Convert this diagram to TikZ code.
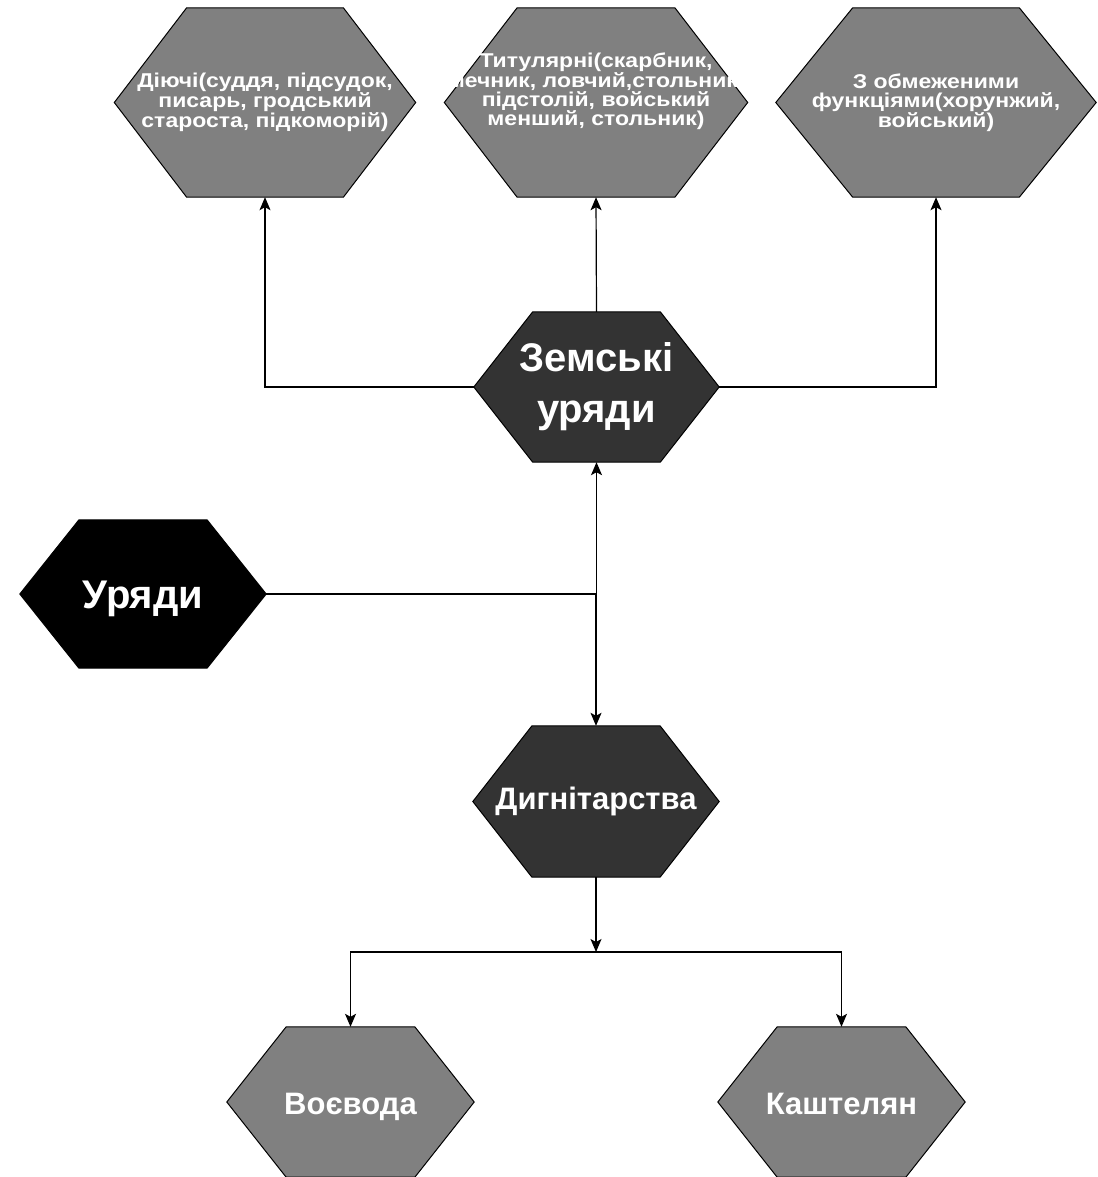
\documentclass[tikz,border=0pt]{standalone}
\usepackage{fontspec}
\setmainfont{Liberation Sans}
\newfontfamily\widefont[FakeStretch=1.15]{Liberation Sans}
\usetikzlibrary{arrows.meta,calc,backgrounds}
\definecolor{hexgray}{HTML}{808080}
\definecolor{hexdark}{HTML}{333333}
\newcommand\hexdraw[2]{%
  \filldraw[fill=#2,draw=black,line width=1pt] (#1.west)
    -- ($(#1.north west)!0.24!(#1.north east)$)
    -- ($(#1.north west)!0.76!(#1.north east)$)
    -- (#1.east)
    -- ($(#1.south west)!0.76!(#1.south east)$)
    -- ($(#1.south west)!0.24!(#1.south east)$)
    -- cycle;}
\tikzset{
  hexnode/.style={shape=rectangle,draw=none,inner sep=0pt,text=white,align=center,font=\bfseries},
  smalltxt/.style={font=\widefont\bfseries\fontsize{20}{19}\selectfont},
  bigtxt/.style={font=\bfseries\fontsize{40}{51}\selectfont},
  midtxt/.style={font=\bfseries\fontsize{31}{34}\selectfont},
  arr/.style={line width=1.2pt,-{Stealth[length=13pt,width=11pt,inset=3pt]}}
}
\begin{document}
\begin{tikzpicture}[x=1pt,y=-1pt]
\useasboundingbox (0,0) rectangle (1097,1177);
% nodes
\node[hexnode,smalltxt,minimum width=301pt,minimum height=189pt] (tl) at (265,102.5) {Діючі(суддя, підсудок,\\писарь, гродський\\староста, підкоморій)};
\node[hexnode,minimum width=303pt,minimum height=189pt] (tm) at (596,102.5) {};
\node[text=white,align=center,smalltxt,inner sep=0pt] (tmtext) at (596,91) {Титулярні(скарбник,\\мечник, ловчий,стольник,\\підстолій, войський\\менший, стольник)};
\node[hexnode,smalltxt,minimum width=320pt,minimum height=189pt] (tr) at (936,102.5) {З обмеженими\\функціями(хорунжий,\\войський)};
\node[hexnode,bigtxt,minimum width=245pt,minimum height=150pt] (zem) at (596.5,387) {Земські\\уряди};
\node[hexnode,minimum width=246pt,minimum height=148pt] (ur) at (143,594) {};
\node[text=white,bigtxt,inner sep=0pt] (urtext) at (143,599) {Уряди};
\node[hexnode,midtxt,minimum width=246pt,minimum height=151pt] (dyg) at (596,801.5) {Дигнітарства};
\node[hexnode,minimum width=247pt,minimum height=150pt] (voe) at (350.5,1102) {};
\node[text=white,midtxt,inner sep=0pt,anchor=base] (voetext) at (350.5,1114) {Воєвода};
\node[hexnode,minimum width=247pt,minimum height=150pt] (kas) at (841.5,1102) {};
\node[text=white,midtxt,inner sep=0pt,anchor=base] (kastext) at (841.5,1114) {Каштелян};
\coordinate (j2) at (596,952);
% hexagons
\begin{scope}[on background layer]
  \hexdraw{tl}{hexgray}
  \hexdraw{tm}{hexgray}
  \hexdraw{tr}{hexgray}
  \hexdraw{zem}{hexdark}
  \hexdraw{ur}{black}
  \hexdraw{dyg}{hexdark}
  \hexdraw{voe}{hexgray}
  \hexdraw{kas}{hexgray}
\end{scope}
% connectors
\draw[arr] (zem.west) -| (tl.south);
\draw[arr] (zem.north) -- (tm.south);
\draw[arr] (zem.east) -| (tr.south);
\draw[arr] (ur.east) -| (zem.south);
\draw[arr] (ur.east) -| (dyg.north);
\draw[arr] (dyg.south) -- (j2);
\draw[arr] (j2) -| (voe.north);
\draw[arr] (j2) -| (kas.north);
\end{tikzpicture}
\end{document}
